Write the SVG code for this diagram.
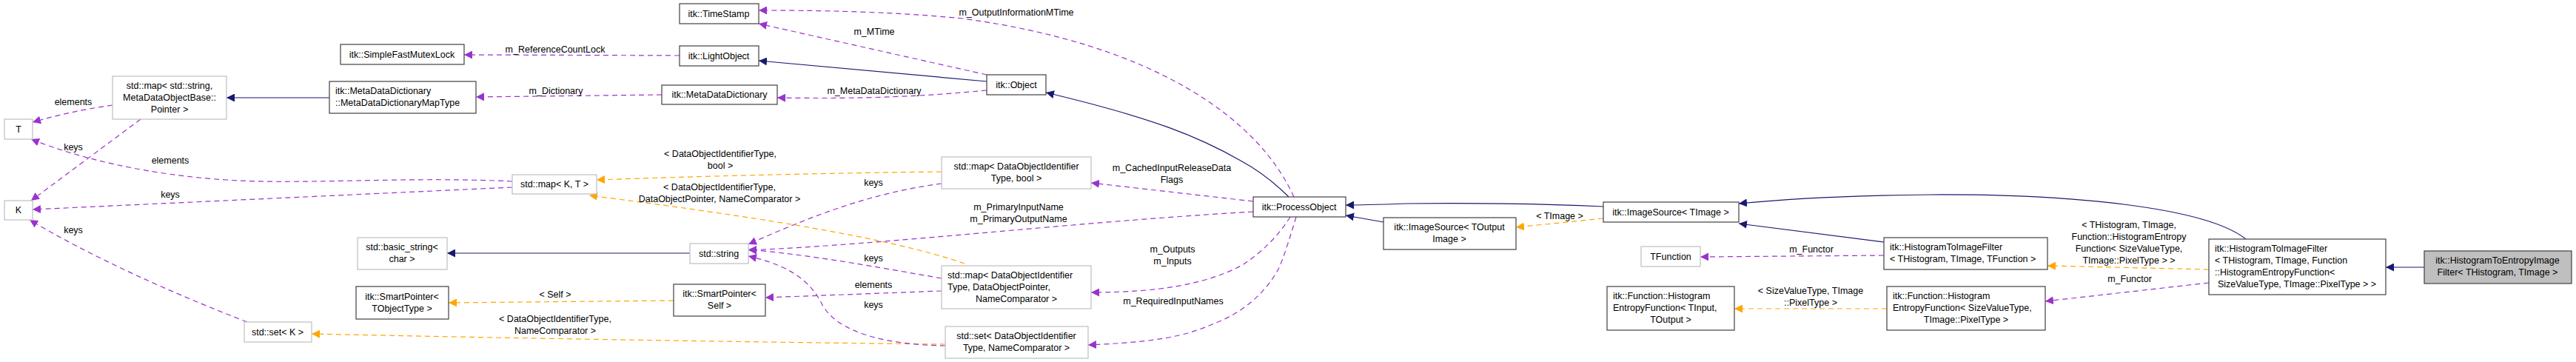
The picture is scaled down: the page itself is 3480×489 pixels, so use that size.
<svg xmlns="http://www.w3.org/2000/svg" width="3480" height="489" viewBox="0 0 3480 489">
<style>
text{font-family:"Liberation Sans",Arial,sans-serif;font-size:12.5px;fill:#000}
.n rect{fill:#fff;stroke:#404040;stroke-width:1.2}
.g rect{fill:#fff;stroke:#bfbfbf;stroke-width:1.2}
.c{text-anchor:middle}
.inh{fill:none;stroke:#191970;stroke-width:1.2;marker-end:url(#an)}
.tpl{fill:none;stroke:#FFA500;stroke-width:1.2;stroke-dasharray:7,5;marker-end:url(#ao)}
.use{fill:none;stroke:#9A32CD;stroke-width:1.2;stroke-dasharray:7,5;marker-end:url(#ap)}
</style>
<defs>
<marker id="an" viewBox="0 0 10 10" refX="10" refY="5" markerWidth="11" markerHeight="11" markerUnits="userSpaceOnUse" orient="auto"><path d="M0,0L10,5L0,10z" fill="#191970"/></marker>
<marker id="ao" viewBox="0 0 10 10" refX="10" refY="5" markerWidth="11" markerHeight="11" markerUnits="userSpaceOnUse" orient="auto"><path d="M0,0L10,5L0,10z" fill="#FFA500"/></marker>
<marker id="ap" viewBox="0 0 10 10" refX="10" refY="5" markerWidth="11" markerHeight="11" markerUnits="userSpaceOnUse" orient="auto"><path d="M0,0L10,5L0,10z" fill="#9A32CD"/></marker>
</defs>
<g id="edges">
<path class="inh" d="M445,132L306,132"/>
<path class="inh" d="M932,342L604,342"/>
<path class="inh" d="M1333,110L1025,82"/>
<path class="inh" d="M1741,266C1720,245 1700,230 1676,217C1620,185 1560,160 1413,125"/>
<path class="inh" d="M2166,279C2100,276 2000,274 1900,275C1870,276 1840,277 1818,277"/>
<path class="inh" d="M1869,300L1818,291"/>
<path class="inh" d="M2545,327L2349,302"/>
<path class="inh" d="M3034,323C2980,280 2800,262 2607,263C2500,264 2420,268 2349,275"/>
<path class="inh" d="M3275,361L3223,361"/>
<path class="tpl" d="M1272,232C1100,234 950,238 806,243"/>
<path class="tpl" d="M1303,356C1200,320 1000,290 796,264"/>
<path class="tpl" d="M910,406L606,409"/>
<path class="tpl" d="M1277,465C1000,462 700,457 421,451"/>
<path class="tpl" d="M2166,295L2048,307"/>
<path class="tpl" d="M2984,364L2766,359"/>
<path class="tpl" d="M2549,417L2343,417"/>
<path class="use" d="M152,142C110,148 80,155 44,165"/>
<path class="use" d="M190,161L42,271"/>
<path class="use" d="M692,245C550,238 400,250 306,243C200,236 110,215 42,188"/>
<path class="use" d="M692,253L44,283"/>
<path class="use" d="M334,435C230,395 120,345 40,297"/>
<path class="use" d="M918,75L627,74"/>
<path class="use" d="M894,128L643,131"/>
<path class="use" d="M1333,122C1250,130 1170,134 1050,132"/>
<path class="use" d="M1333,101L1025,32"/>
<path class="use" d="M1748,266C1700,160 1560,60 1300,25C1200,15 1100,14 1025,14"/>
<path class="use" d="M1693,272L1474,247"/>
<path class="use" d="M1693,286C1450,300 1200,330 1011,338"/>
<path class="use" d="M1272,248C1180,260 1100,290 1011,330"/>
<path class="use" d="M1272,376C1180,360 1100,345 1011,337"/>
<path class="use" d="M1272,393L1034,402"/>
<path class="use" d="M1277,467C1200,466 1130,450 1110,410C1090,370 1050,355 1011,346"/>
<path class="use" d="M1743,293C1720,330 1690,350 1680,357C1630,385 1560,395 1474,395"/>
<path class="use" d="M1751,293C1740,330 1730,360 1725,367C1700,410 1660,430 1640,437C1600,455 1560,462 1470,466"/>
<path class="use" d="M2545,345L2297,347"/>
<path class="use" d="M2984,382L2763,407"/>
</g>
<g id="labels">
<text x="99" y="142" class="c">elements</text>
<text x="99" y="203" class="c">keys</text>
<text x="230" y="221" class="c">elements</text>
<text x="230" y="267" class="c">keys</text>
<text x="99" y="315" class="c">keys</text>
<text x="750" y="71" class="c">m_ReferenceCountLock</text>
<text x="751" y="127" class="c">m_Dictionary</text>
<text x="1181" y="127" class="c">m_MetaDataDictionary</text>
<text x="1181" y="47" class="c">m_MTime</text>
<text x="1373" y="21" class="c">m_OutputInformationMTime</text>
<text x="973" y="212" class="c">&lt; DataObjectIdentifierType,</text>
<text x="973" y="228" class="c">bool &gt;</text>
<text x="972" y="257" class="c">&lt; DataObjectIdentifierType,</text>
<text x="972" y="273" class="c">DataObjectPointer, NameComparator &gt;</text>
<text x="750" y="402" class="c">&lt; Self &gt;</text>
<text x="750" y="435" class="c">&lt; DataObjectIdentifierType,</text>
<text x="750" y="451" class="c">NameComparator &gt;</text>
<text x="1583" y="231" class="c">m_CachedInputReleaseData</text>
<text x="1583" y="247" class="c">Flags</text>
<text x="1376" y="284" class="c">m_PrimaryInputName</text>
<text x="1376" y="300" class="c">m_PrimaryOutputName</text>
<text x="1180" y="251" class="c">keys</text>
<text x="1180" y="353" class="c">keys</text>
<text x="1180" y="389" class="c">elements</text>
<text x="1180" y="416" class="c">keys</text>
<text x="1584" y="341" class="c">m_Outputs</text>
<text x="1584" y="357" class="c">m_Inputs</text>
<text x="1585" y="411" class="c">m_RequiredInputNames</text>
<text x="2107" y="296" class="c">&lt; TImage &gt;</text>
<text x="2447" y="341" class="c">m_Functor</text>
<text x="2877" y="381" class="c">m_Functor</text>
<text x="2876" y="308" class="c">&lt; THistogram, TImage,</text>
<text x="2876" y="324" class="c">Function::HistogramEntropy</text>
<text x="2876" y="340" class="c">Function&lt; SizeValueType,</text>
<text x="2876" y="356" class="c">TImage::PixelType &gt; &gt;</text>
<text x="2446" y="397" class="c">&lt; SizeValueType, TImage</text>
<text x="2446" y="413" class="c">::PixelType &gt;</text>
</g>
<g id="T" class="g"><rect x="6" y="161" width="38" height="27"/><text x="25" y="179" class="c">T</text></g>
<g id="K" class="g"><rect x="6" y="271" width="38" height="26"/><text x="25" y="288" class="c">K</text></g>
<g id="mapStr" class="g"><rect x="152" y="103" width="154" height="58"/><text x="229" y="120" class="c">std::map&lt; std::string,</text><text x="229" y="136" class="c">MetaDataObjectBase::</text><text x="229" y="152" class="c">Pointer &gt;</text></g>
<g id="mutex" class="n"><rect x="460" y="60" width="167" height="27"/><text x="543" y="78" class="c">itk::SimpleFastMutexLock</text></g>
<g id="mapType" class="n"><rect x="445" y="110" width="198" height="43"/><text x="453" y="127">itk::MetaDataDictionary</text><text x="453" y="143">::MetaDataDictionaryMapType</text></g>
<g id="basicString" class="g"><rect x="483" y="321" width="121" height="43"/><text x="543" y="338" class="c">std::basic_string&lt;</text><text x="543" y="354" class="c">char &gt;</text></g>
<g id="spT" class="n"><rect x="481" y="387" width="125" height="44"/><text x="543" y="405" class="c">itk::SmartPointer&lt;</text><text x="543" y="421" class="c">TObjectType &gt;</text></g>
<g id="setK" class="g"><rect x="330" y="435" width="91" height="27"/><text x="375" y="453" class="c">std::set&lt; K &gt;</text></g>
<g id="timeStamp" class="n"><rect x="918" y="5" width="107" height="27"/><text x="971" y="23" class="c">itk::TimeStamp</text></g>
<g id="lightObject" class="n"><rect x="918" y="62" width="107" height="27"/><text x="971" y="80" class="c">itk::LightObject</text></g>
<g id="mdd" class="n"><rect x="894" y="115" width="156" height="26"/><text x="972" y="132" class="c">itk::MetaDataDictionary</text></g>
<g id="mapKT" class="g"><rect x="692" y="236" width="114" height="26"/><text x="749" y="253" class="c">std::map&lt; K, T &gt;</text></g>
<g id="stdString" class="g"><rect x="932" y="329" width="79" height="27"/><text x="971" y="347" class="c">std::string</text></g>
<g id="spSelf" class="n"><rect x="910" y="384" width="124" height="43"/><text x="972" y="401" class="c">itk::SmartPointer&lt;</text><text x="972" y="417" class="c">Self &gt;</text></g>
<g id="object" class="n"><rect x="1333" y="101" width="80" height="27"/><text x="1373" y="119" class="c">itk::Object</text></g>
<g id="mapBool" class="g"><rect x="1272" y="212" width="202" height="43"/><text x="1373" y="229" class="c">std::map&lt; DataObjectIdentifier</text><text x="1373" y="245" class="c">Type, bool &gt;</text></g>
<g id="mapDOP" class="g"><rect x="1272" y="359" width="202" height="58"/><text x="1280" y="376">std::map&lt; DataObjectIdentifier</text><text x="1280" y="392">Type, DataObjectPointer,</text><text x="1373" y="408" class="c">NameComparator &gt;</text></g>
<g id="setDOI" class="g"><rect x="1277" y="441" width="193" height="43"/><text x="1373" y="458" class="c">std::set&lt; DataObjectIdentifier</text><text x="1373" y="474" class="c">Type, NameComparator &gt;</text></g>
<g id="processObject" class="n"><rect x="1693" y="266" width="125" height="27"/><text x="1755" y="284" class="c">itk::ProcessObject</text></g>
<g id="isOut" class="n"><rect x="1869" y="294" width="179" height="43"/><text x="1958" y="311" class="c">itk::ImageSource&lt; TOutput</text><text x="1958" y="327" class="c">Image &gt;</text></g>
<g id="isImg" class="n"><rect x="2166" y="273" width="183" height="27"/><text x="2257" y="291" class="c">itk::ImageSource&lt; TImage &gt;</text></g>
<g id="tfunc" class="g"><rect x="2217" y="333" width="80" height="27"/><text x="2257" y="351" class="c">TFunction</text></g>
<g id="hefIn" class="n"><rect x="2171" y="387" width="172" height="59"/><text x="2179" y="404">itk::Function::Histogram</text><text x="2179" y="420">EntropyFunction&lt; TInput,</text><text x="2257" y="436" class="c">TOutput &gt;</text></g>
<g id="h2if" class="n"><rect x="2545" y="321" width="221" height="43"/><text x="2553" y="338">itk::HistogramToImageFilter</text><text x="2553" y="354">&lt; THistogram, TImage, TFunction &gt;</text></g>
<g id="hefSz" class="n"><rect x="2549" y="387" width="214" height="59"/><text x="2557" y="404">itk::Function::Histogram</text><text x="2557" y="420">EntropyFunction&lt; SizeValueType,</text><text x="2656" y="436" class="c">TImage::PixelType &gt;</text></g>
<g id="h2ifE" class="n"><rect x="2984" y="323" width="239" height="75"/><text x="2992" y="340">itk::HistogramToImageFilter</text><text x="2992" y="356">&lt; THistogram, TImage, Function</text><text x="2992" y="372">::HistogramEntropyFunction&lt;</text><text x="3103" y="388" class="c">SizeValueType, TImage::PixelType &gt; &gt;</text></g>
<g id="h2e" class="n"><rect x="3275" y="339" width="199" height="44" style="fill:#bfbfbf"/><text x="3374" y="356" class="c">itk::HistogramToEntropyImage</text><text x="3374" y="372" class="c">Filter&lt; THistogram, TImage &gt;</text></g>
</svg>
